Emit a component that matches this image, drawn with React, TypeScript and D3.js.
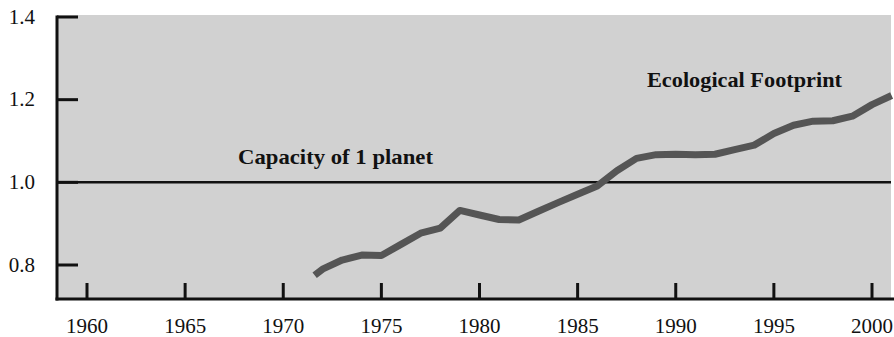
import React from "react";
import * as d3 from "d3";

const years = [1971.6, 1972, 1973, 1974, 1975, 1976, 1977, 1978, 1979, 1980, 1981, 1982, 1983, 1984, 1985, 1986, 1987, 1988, 1989, 1990, 1991, 1992, 1993, 1994, 1995, 1996, 1997, 1998, 1999, 2000, 2001];
const footprint = [0.775, 0.79, 0.812, 0.824, 0.823, 0.85, 0.877, 0.889, 0.932, 0.921, 0.91, 0.909, 0.93, 0.951, 0.971, 0.991, 1.028, 1.058, 1.067, 1.068, 1.067, 1.068, 1.079, 1.09, 1.118, 1.138, 1.148, 1.149, 1.16, 1.188, 1.21];
const xTicks = [1960, 1965, 1970, 1975, 1980, 1985, 1990, 1995, 2000];
const yTicks = [0.8, 1.0, 1.2, 1.4];
const capacityValue = 1.0;
const capacityLabel = "Capacity of 1 planet";
const footprintLabel = "Ecological Footprint";

const W = 894;
const H = 337;

export default function App() {
  const x = d3.scaleLinear().domain([1960, 2000]).range([87, 872]);
  const y = d3.scaleLinear().domain([0.8, 1.4]).range([265, 17]);
  const axisX = 57;
  const axisY = 299;
  const right = 891;
  const data = years.map((yr, i) => [yr, footprint[i]] as [number, number]);
  const line = d3
    .line<[number, number]>()
    .x((d) => x(d[0]))
    .y((d) => y(d[1]))
    .curve(d3.curveLinear);
  const font = "'Liberation Serif', 'Times New Roman', serif";

  return (
    <svg
      width={W}
      height={H}
      style={{ position: "absolute", left: 0, top: 0, background: "#fff" }}
    >
      <rect x={axisX} y={15} width={right - axisX} height={axisY - 15} fill="#d1d1d1" />
      {/* capacity line */}
      <line x1={axisX} x2={right} y1={y(capacityValue)} y2={y(capacityValue)} stroke="#111" strokeWidth={2.5} />
      {/* footprint line */}
      <path d={line(data) || ""} fill="none" stroke="#555" strokeWidth={7} strokeLinejoin="round" strokeLinecap="butt" />
      {/* axes */}
      <line x1={axisX} x2={axisX} y1={y(1.4) - 1.5} y2={axisY + 1.5} stroke="#111" strokeWidth={3} />
      <line x1={axisX - 1.5} x2={right + 3} y1={axisY} y2={axisY} stroke="#111" strokeWidth={3} />
      {yTicks.map((t) => (
        <g key={"y" + t}>
          <line x1={axisX} x2={78} y1={y(t)} y2={y(t)} stroke="#111" strokeWidth={3} />
          <text x={35} y={y(t) + 6.5} textAnchor="end" fontFamily={font} fontSize={21} fill="#111">
            {t.toFixed(1)}
          </text>
        </g>
      ))}
      {xTicks.map((t) => (
        <g key={"x" + t}>
          <line x1={x(t)} x2={x(t)} y1={283} y2={axisY} stroke="#111" strokeWidth={3} />
          <text x={x(t)} y={333} textAnchor="middle" fontFamily={font} fontSize={21} fill="#111">
            {t}
          </text>
        </g>
      ))}
      <text x={238} y={164} fontFamily={font} fontWeight="bold" fontSize={22} fill="#111" textLength={195} lengthAdjust="spacingAndGlyphs">
        {capacityLabel}
      </text>
      <text x={647} y={87} fontFamily={font} fontWeight="bold" fontSize={22} fill="#111" textLength={195} lengthAdjust="spacingAndGlyphs">
        {footprintLabel}
      </text>
    </svg>
  );
}
